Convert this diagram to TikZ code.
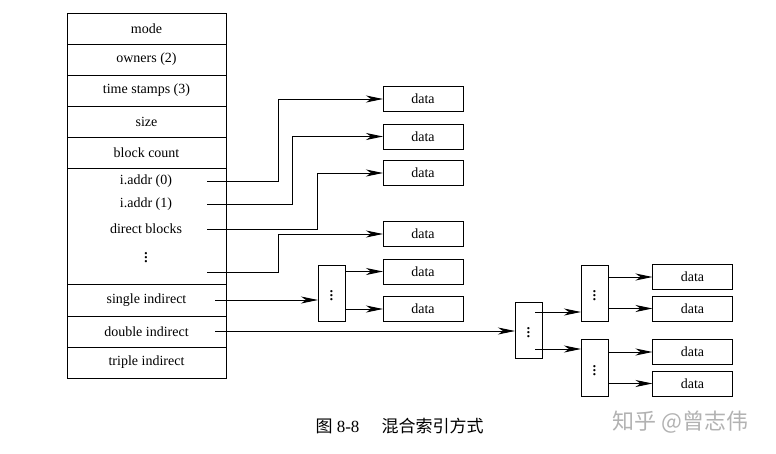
\documentclass[tikz,border=0pt]{standalone}
\usepackage{fontspec}
\setmainfont{Liberation Serif}
\newfontfamily\cjk{Noto Sans CJK SC}
\usetikzlibrary{arrows.meta}

\begin{document}
\begin{tikzpicture}[x=1pt,y=-1pt,>={Stealth[length=17pt,width=7pt,inset=5pt]},line width=1pt,
  font=\fontsize{14}{16}\selectfont,
  cell/.style={draw,minimum width=159pt,minimum height=31pt,inner sep=0pt,outer sep=0pt},
  datbox/.style={draw,minimum width=80pt,minimum height=25pt,inner sep=0pt,outer sep=0pt},
  idxbox/.style={draw,minimum width=27pt,minimum height=56pt,inner sep=0pt,outer sep=0pt,
    font=\fontsize{19}{20}\selectfont}]
\useasboundingbox (0,0) rectangle (776,453);
\node[cell] (mode) at (146.5,28.5) {mode};
\node[cell] (owners) at (146.5,59.5) {owners (2)};
\node[cell] (stamps) at (146.5,90.5) {time stamps (3)};
\node[cell] (size) at (146.5,121.5) {size};
\node[cell] (count) at (146.5,152.5) {block count};
\node[cell,minimum height=116pt] (direct) at (146.5,226) {};
\node[cell,minimum height=32pt] (single) at (146.5,300) {single indirect};
\node[cell] (double) at (146.5,331.5) {double indirect};
\node[cell] (triple) at (146.5,362.5) {triple indirect};
\node (addr0) at (146,181) {i.addr (0)};
\node (addr1) at (146,204) {i.addr (1)};
\node (blocks) at (146,229) {direct blocks};
\node[font=\fontsize{19}{20}\selectfont] (more) at (146,255) {$\vdots$};
\coordinate (p0) at (207,181);
\coordinate (p1) at (207,204);
\coordinate (p2) at (207,229);
\coordinate (p3) at (207,272);
\coordinate (ps) at (215,300);
\coordinate (pd) at (215,331);
\node[datbox] (d1) at (423,99) {data};
\node[datbox] (d2) at (423,136.5) {data};
\node[datbox] (d3) at (423,173) {data};
\node[datbox] (d4) at (423,234) {data};
\node[datbox] (d5) at (423,271.5) {data};
\node[datbox] (d6) at (423,309) {data};
\node[idxbox] (s1) at (331.5,293) {$\vdots$};
\node[idxbox] (dd) at (528.5,330) {$\vdots$};
\node[idxbox] (u1) at (594.5,293) {$\vdots$};
\node[idxbox,minimum height=57pt] (u2) at (594.5,367.5) {$\vdots$};
\node[datbox] (e1) at (692.5,277) {data};
\node[datbox] (e2) at (692.5,308.5) {data};
\node[datbox] (e3) at (692.5,352) {data};
\node[datbox] (e4) at (692.5,383.5) {data};
\coordinate (q1) at (535,312);
\coordinate (q2) at (535,349);
\draw[->] (p0) -- ++(71,0) |- (d1.west);
\draw[->] (p1) -- ++(85,0) |- (d2.west);
\draw[->] (p2) -- ++(110,0) |- (d3.west);
\draw[->] (p3) -- ++(71,0) |- (d4.west);
\draw[->] (ps) -- (ps -| s1.west);
\draw[->] (s1.east |- d5) -- (d5.west);
\draw[->] (s1.east |- d6) -- (d6.west);
\draw[->] (pd) -- (pd -| dd.west);
\draw[->] (q1) -- (q1 -| u1.west);
\draw[->] (q2) -- (q2 -| u2.west);
\draw[->] (u1.east |- e1) -- (e1.west);
\draw[->] (u1.east |- e2) -- (e2.west);
\draw[->] (u2.east |- e3) -- (e3.west);
\draw[->] (u2.east |- e4) -- (e4.west);
\node[anchor=west,inner sep=0pt,font=\fontsize{17}{20}\selectfont] (caption) at (315,426) {{\cjk 图} 8-8\hspace{1.3em}{\cjk 混合索引方式}};
\node[anchor=west,inner sep=0pt,text=black!30,font=\cjk\fontsize{22}{24}\selectfont] (mark) at (612,422) {知乎 @曾志伟};
\end{tikzpicture}
\end{document}
